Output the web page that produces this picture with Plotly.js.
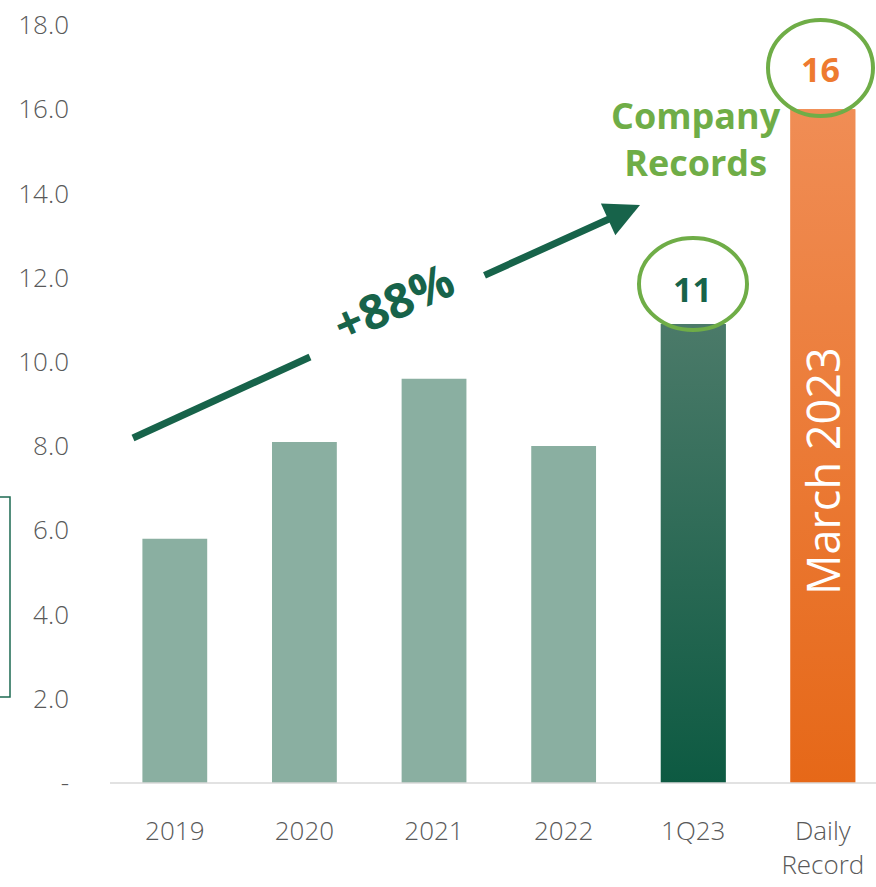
<!DOCTYPE html>
<html>
<head>
<meta charset="utf-8">
<script src="https://cdn.plot.ly/plotly-3.0.1.min.js"></script>
<style>html,body{margin:0;padding:0;background:#fff;}#chart{width:876px;height:887px;}</style>
</head>
<body>
<div id="chart"></div>
<script>
// ---- data ----
const categories = ["2019", "2020", "2021", "2022", "1Q23", "Daily<br>Record"];
const values = [5.8, 8.1, 9.6, 8.0, 10.9, 16.0];
const barColors = ["#8aafa1", "#8aafa1", "#8aafa1", "#8aafa1", "#10604a", "#ee7a30"];
const yTickVals = [0, 2, 4, 6, 8, 10, 12, 14, 16, 18];
const yTickText = ["-", "2.0", "4.0", "6.0", "8.0", "10.0", "12.0", "14.0", "16.0", "18.0"];
const gradientBars = [
  {index: 4, bottom: "#0d5a42", top: "#4b7a69"},
  {index: 5, bottom: "#e66818", top: "#f08d55"}
];
const growthLabel = "+88%";
const recordLabel = "Company<br>Records";
const q1Label = "11";
const dailyLabel = "16";
const monthLabel = "March 2023";

// ---- layout helpers (pixel -> paper) ----
const W = 876, H = 887, ML = 110, MR = 0, MT = 25, MB = 104;
const PW = W - ML - MR, PH = H - MT - MB;
const px = x => (x - ML) / PW;
const py = y => (H - MB - y) / PH;

const xIdx = categories.map((c, i) => i);
const barWidth = 0.5;

const traces = [{
  type: "bar",
  x: xIdx,
  y: values,
  width: barWidth,
  marker: {color: barColors, line: {width: 0}},
  hoverinfo: "skip",
  showlegend: false
}];

gradientBars.forEach(g => {
  const i = g.index, v = values[i], h = barWidth / 2;
  traces.push({
    type: "scatter",
    mode: "lines",
    x: [i - h, i + h, i + h, i - h, i - h],
    y: [0, 0, v, v, 0],
    fill: "toself",
    line: {width: 0},
    fillgradient: {type: "vertical", start: 0, stop: v, colorscale: [[0, g.bottom], [1, g.top]]},
    hoverinfo: "skip",
    showlegend: false
  });
});

const tickFont = {family: "Open Sans, sans-serif", size: 26, color: "#595959", weight: 300};
const darkGreen = "#17634a";
const lightGreen = "#6fad47";

function label(x, y, text, font, extra) {
  return Object.assign({xref: "paper", yref: "paper", x: px(x), y: py(y), text: text, showarrow: false,
    xanchor: "center", yanchor: "middle", font: font}, extra || {});
}

const layout = {
  width: W, height: H,
  margin: {l: ML, r: MR, t: MT, b: MB},
  paper_bgcolor: "#ffffff",
  plot_bgcolor: "#ffffff",
  showlegend: false,
  xaxis: {
    range: [-0.5, 5.41],
    tickvals: xIdx,
    ticktext: categories,
    tickfont: tickFont,
    showgrid: false,
    zeroline: false,
    showline: false,
    ticks: "",
    ticklabelstandoff: 30,
    fixedrange: true
  },
  yaxis: {
    range: [0, 18],
    tickvals: yTickVals,
    ticktext: yTickText,
    tickfont: tickFont,
    showgrid: false,
    zeroline: false,
    showline: false,
    ticks: "",
    ticklabelstandoff: 40,
    fixedrange: true
  },
  shapes: [
    {type: "line", xref: "paper", yref: "paper", x0: 0, x1: 1, y0: 0, y1: 0, line: {color: "#d9d9d9", width: 1.5}, layer: "above"},
    {type: "rect", xref: "paper", yref: "paper", x0: px(-20), x1: px(10), y0: py(697), y1: py(497), line: {color: "#1d6a51", width: 1.5}, fillcolor: "rgba(0,0,0,0)"},
    {type: "line", xref: "paper", yref: "paper", x0: px(133), y0: py(438), x1: px(310), y1: py(357), line: {color: darkGreen, width: 7}},
    {type: "circle", xref: "paper", yref: "paper", x0: px(639), x1: px(747), y0: py(330), y1: py(238), line: {color: lightGreen, width: 4}, fillcolor: "rgba(0,0,0,0)", layer: "above"},
    {type: "circle", xref: "paper", yref: "paper", x0: px(768), x1: px(873), y0: py(116), y1: py(20), line: {color: lightGreen, width: 4}, fillcolor: "rgba(0,0,0,0)", layer: "above"}
  ],
  annotations: [
    {xref: "paper", yref: "paper", x: px(640), y: py(205), ax: 483 - 640, ay: 276 - 205, axref: "pixel", ayref: "pixel",
     showarrow: true, arrowhead: 2, arrowsize: 1, arrowwidth: 7, arrowcolor: darkGreen, text: ""},
    label(393, 301, "<b>" + growthLabel + "</b>", {family: "Open Sans, sans-serif", size: 48, color: darkGreen, weight: 800}, {textangle: -24}),
    label(696, 139, "<b>" + recordLabel + "</b>", {family: "Open Sans, sans-serif", size: 36, color: lightGreen, weight: 800}),
    label(692, 289, "<b>" + q1Label + "</b>", {family: "Open Sans, sans-serif", size: 34, color: darkGreen, weight: 800}),
    label(820, 69, "<b>" + dailyLabel + "</b>", {family: "Open Sans, sans-serif", size: 34, color: "#ee7a30", weight: 800}),
    label(822, 471, monthLabel, {family: "Open Sans, sans-serif", size: 45, color: "#ffffff"}, {textangle: -90})
  ]
};

Plotly.newPlot("chart", traces, layout, {displayModeBar: false, staticPlot: true});
</script>
</body>
</html>
